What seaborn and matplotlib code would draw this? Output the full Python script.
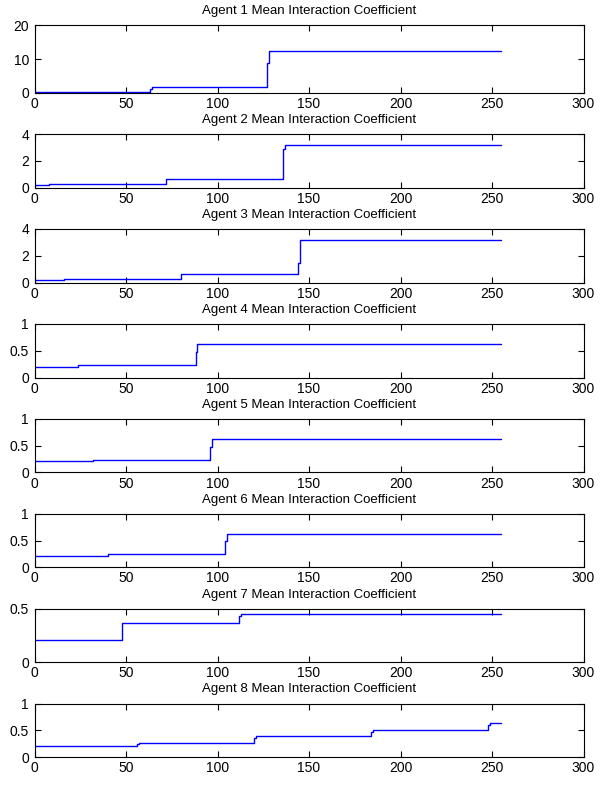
import numpy as np
import pandas as pd
import matplotlib
matplotlib.use("Agg")
import matplotlib.pyplot as plt
import seaborn as sns

# ---- data ----
agents = [1, 2, 3, 4, 5, 6, 7, 8]
x_end = 255

a1_x = [0, 63, 64, 127, 128]
a1_y = [0.4, 1.2, 1.86, 9.0, 12.4]
a2_x = [0, 8, 72, 136, 137]
a2_y = [0.22, 0.29, 0.66, 2.9, 3.15]
a3_x = [0, 16, 80, 144, 145]
a3_y = [0.21, 0.28, 0.65, 1.5, 3.15]
a4_x = [0, 24, 88, 89]
a4_y = [0.204, 0.24, 0.48, 0.617]
a5_x = [0, 32, 96, 97]
a5_y = [0.204, 0.24, 0.48, 0.63]
a6_x = [0, 40, 104, 105]
a6_y = [0.204, 0.24, 0.5, 0.63]
a7_x = [0, 48, 112, 113]
a7_y = [0.204, 0.37, 0.43, 0.454]
a8_x = [0, 56, 57, 120, 121, 184, 185, 248, 249]
a8_y = [0.204, 0.24, 0.265, 0.36, 0.39, 0.47, 0.5, 0.6, 0.636]

step_x = [a1_x, a2_x, a3_x, a4_x, a5_x, a6_x, a7_x, a8_x]
step_y = [a1_y, a2_y, a3_y, a4_y, a5_y, a6_y, a7_y, a8_y]

y_limits = [(0, 20), (0, 4), (0, 4), (0, 1), (0, 1), (0, 1), (0, 0.5), (0, 1)]
y_ticks = [[0, 10, 20], [0, 2, 4], [0, 2, 4], [0, 0.5, 1], [0, 0.5, 1],
           [0, 0.5, 1], [0, 0.5], [0, 0.5, 1]]
y_ticklabels = [["0", "10", "20"], ["0", "2", "4"], ["0", "2", "4"],
                ["0", "0.5", "1"], ["0", "0.5", "1"], ["0", "0.5", "1"],
                ["0", "0.5"], ["0", "0.5", "1"]]
x_ticks = [0, 50, 100, 150, 200, 250, 300]
titles = [f"Agent {a} Mean Interaction Coefficient" for a in agents]

# ---- style ----
sns.set_theme(style="ticks")
plt.rcParams["font.family"] = ["Liberation Sans", "DejaVu Sans"]
plt.rcParams["font.size"] = 9.5

W, H = 606, 795
fig = plt.figure(figsize=(W / 100, H / 100), dpi=100)
fig.patch.set_facecolor("white")

left_px, right_px = 34.5, 583.5
bottoms_px = [93.0, 187.7, 282.6, 377.5, 472.4, 567.3, 662.3, 757.1]
tops_px = [25.3] + [b - 53.6 for b in bottoms_px[1:]]

for i in range(8):
    b, t = bottoms_px[i], tops_px[i]
    ax = fig.add_axes([left_px / W, 1 - b / H, (right_px - left_px) / W, (b - t) / H])
    xs = list(step_x[i]) + [x_end]
    ys = list(step_y[i]) + [step_y[i][-1]]
    df = pd.DataFrame({"x": xs, "y": ys})
    sns.lineplot(data=df, x="x", y="y", ax=ax, color="#0000ff", linewidth=1.0,
                 drawstyle="steps-post", estimator=None, sort=False)
    ax.set_xlim(0, 300)
    ax.set_ylim(*y_limits[i])
    ax.set_xticks(x_ticks)
    ax.set_xticklabels([str(v) for v in x_ticks])
    ax.set_yticks(y_ticks[i])
    ax.set_yticklabels(y_ticklabels[i])
    ax.set_xlabel("")
    ax.set_ylabel("")
    ax.set_title(titles[i], fontsize=9.5, pad=8, color="black")
    ax.set_facecolor("white")
    for s in ax.spines.values():
        s.set_visible(True)
        s.set_color("black")
        s.set_linewidth(0.8)
    ax.tick_params(direction="in", length=4, width=0.8, top=True, right=True,
                   labelsize=10, colors="black")
    ax.tick_params(axis="y", pad=4)
    ax.tick_params(axis="x", pad=3)
    ax.grid(False)

fig.savefig("out.png", dpi=100, facecolor="white")
